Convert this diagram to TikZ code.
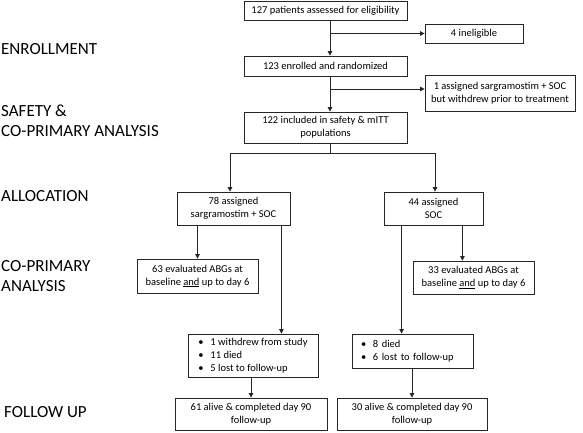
\documentclass[tikz,border=0pt]{standalone}
\usepackage{fontspec}
\setmainfont{Carlito}
\usepackage{tikz}
\usetikzlibrary{arrows.meta, positioning, calc}

\tikzset{
  box/.style={draw=black!85, line width=0.8pt, align=center, inner sep=2pt,
    font=\fontsize{10.5}{13}\selectfont},
  listbox/.style={box, align=left, inner xsep=8pt},
  phase/.style={anchor=west, align=left, inner sep=0pt,
    font=\fontsize{17}{20.5}\selectfont},
  arr/.style={draw=black!85, line width=0.8pt, -{Triangle[length=4.5pt,width=4.5pt]}},
  ln/.style={draw=black!85, line width=0.8pt}
}
\newcommand{\bul}{\makebox[12pt][l]{•}}

\begin{document}
\begin{tikzpicture}[x=1pt, y=-1pt]
  \useasboundingbox (0,0) rectangle (583,432);

  % study phases on the left
  \node[phase] (pEnrol) at (1,49) {ENROLLMENT};
  \node[phase] (pSafety) at (1,120.5) {SAFETY \&\\CO-PRIMARY ANALYSIS};
  \node[phase] (pAlloc) at (1,196) {ALLOCATION};
  \node[phase] (pCoPrim) at (1,276) {CO-PRIMARY\\ANALYSIS};
  \node[phase] (pFollow) at (4,412) {FOLLOW UP};

  % boxes
  \node[box, minimum width=163, minimum height=19] (assessed) at (325.5,10.5) {127 patients assessed for eligibility};
  \node[box, minimum width=98, minimum height=19] (inelig) at (474,33.5) {4 ineligible};
  \node[box, minimum width=163, minimum height=20] (enrolled) at (325.5,66) {123 enrolled and randomized};
  \node[box, minimum width=150, minimum height=36] (withdrew) at (500,93) {1 assigned sargramostim + SOC\\but withdrew prior to treatment};
  \node[box, minimum width=163, minimum height=31] (included) at (325.5,127.5) {122 included in safety \& mITT\\populations};

  \node[box, minimum width=113, minimum height=33] (sargr) at (233.5,208.5) {78 assigned\\sargramostim + SOC};
  \node[box, minimum width=99, minimum height=33] (soc) at (433.5,208.5) {44 assigned\\SOC};
  \node[box, minimum width=121, minimum height=34] (abgSargr) at (197.5,276) {63 evaluated ABGs at\\baseline \underline{and} up to day 6};
  \node[box, minimum width=121, minimum height=33] (abgSoc) at (473.5,277.5) {33 evaluated ABGs at\\baseline \underline{and} up to day 6};

  \node[listbox, minimum width=130, minimum height=43] (lossSargr) at (253,355.5)
    {\bul 1 withdrew from study\\\bul 11 died\\\bul 5 lost to follow-up};
  \node[listbox, inner xsep=9pt, text width=103, minimum height=34] (lossSoc) at (412.5,351)
    {\bul 8 died\\\bul 6 lost to follow-up};

  \node[box, minimum width=152, minimum height=32] (aliveSargr) at (251,414) {61 alive \& completed day 90\\follow-up};
  \node[box, minimum width=150, minimum height=32] (aliveSoc) at (412,414) {30 alive \& completed day 90\\follow-up};

  % connectors
  \coordinate (spine) at (330,0);
  \coordinate (split) at (330,153);
  \draw[arr] (assessed.south -| spine) -- (enrolled.north -| spine);
  \draw[arr] (spine |- inelig.west) -- (inelig.west);
  \draw[arr] (enrolled.south -| spine) -- (included.north -| spine);
  \draw[arr] ([yshift=4pt]spine |- withdrew.west) -- ([yshift=4pt]withdrew.west);
  \draw[ln] (included.south -| spine) -- (split);
  \draw[arr] (split) -| ([xshift=-3.5pt]sargr.north);
  \draw[arr] (split) -| ([xshift=1.5pt]soc.north);

  \draw[arr] (sargr.south -| abgSargr.north) -- (abgSargr.north);
  \draw[arr] ([xshift=-9pt]sargr.south east) -- ([xshift=-9pt]sargr.south east |- lossSargr.north);
  \draw[arr] ([xshift=-21pt]soc.south east) -- ([xshift=-21pt]soc.south east |- abgSoc.north);
  \draw[arr] ([xshift=18pt]soc.south west) -- ([xshift=18pt]soc.south west |- lossSoc.north);

  \draw[arr] (aliveSargr.north |- lossSargr.south) -- (aliveSargr.north);
  \draw[arr] (aliveSoc.north |- lossSoc.south) -- (aliveSoc.north);
\end{tikzpicture}
\end{document}
